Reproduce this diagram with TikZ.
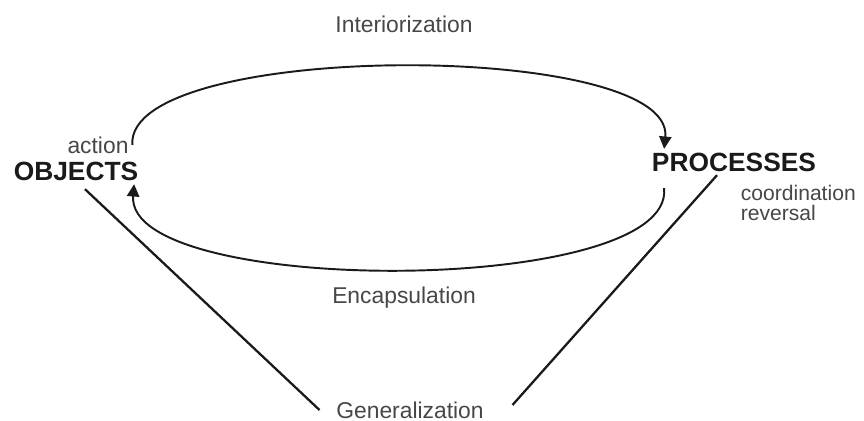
\documentclass[tikz,border=0pt]{standalone}
\usepackage{fontspec}
\setmainfont{Liberation Sans}
\setsansfont{Liberation Sans}
\usetikzlibrary{arrows.meta}
\definecolor{cInk}{HTML}{1A1A1A}
\definecolor{cLbl}{HTML}{474747}
\tikzset{
    stage/.style={font=\sffamily\bfseries\fontsize{15}{18}\selectfont, text=cInk, inner sep=2pt},
    lbl/.style={font=\sffamily\fontsize{13}{15}\selectfont, text=cLbl, inner sep=2pt},
    note/.style={lbl, font=\sffamily\fontsize{12}{11.4}\selectfont, align=left, anchor=west},
    flow/.style={-{Triangle[length=7pt, width=7pt]}, line width=1.1pt, cInk},
    link/.style={line width=1.3pt, cInk},
}

\begin{document}
\begin{tikzpicture}[x=0.02cm, y=-0.02cm]

\useasboundingbox (0,0) rectangle (864,421);

\node[stage] (obj)  at (76,171)  {OBJECTS};
\node[stage] (proc) at (734,162) {PROCESSES};

\node[lbl]  (act)   at (98,145)  {action};
\node[lbl]  (inter) at (404,24)  {Interiorization};
\node[lbl]  (enc)   at (404,298) {Encapsulation};
\node[lbl]  (gen)   at (410,410) {Generalization};
\node[note] (coord) at (737,203) {coordination\\reversal};

\draw[flow] (act.east) .. controls (125,40) and (675,40) .. ([xshift=0.32cm]proc.north west);
\draw[flow] ([shift={(0.32cm,-0.26cm)}]proc.south west) .. controls (675,297) and (125,297) .. ([xshift=-0.16cm]obj.south east);

\draw[link] ([shift={(0.18cm,-0.1cm)}]obj.south) -- ([xshift=-0.26cm]gen.west);
\draw[link] ([xshift=-0.34cm]proc.south) -- ([shift={(0.5cm,0.1cm)}]gen.east);

\end{tikzpicture}
\end{document}
